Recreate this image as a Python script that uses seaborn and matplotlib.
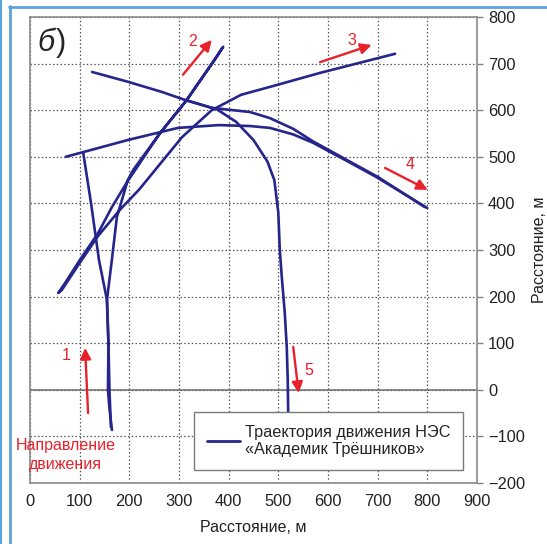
import matplotlib
matplotlib.use("Agg")
import matplotlib.pyplot as plt
from matplotlib.lines import Line2D
import pandas as pd
import seaborn as sns

# Trajectory pieces (x, y in metres)
seg1_x = [165, 160, 157, 158, 155, 165, 175, 197, 208, 262, 316, 372, 389,
          370, 314, 260, 195, 165, 137, 100, 70, 57, 64, 100, 137, 180, 220,
          306, 366, 425, 490, 584, 735]
seg1_y = [-86, -40, 0, 100, 193, 280, 371, 450, 472, 551, 622, 708, 736,
          706, 620, 548, 445, 392, 336, 278, 228, 208, 214, 272, 330, 385, 430,
          542, 600, 633, 652, 680, 721]
seg2_x = [107, 123, 139, 155, 158, 160, 163]
seg2_y = [510, 400, 278, 193, 100, 0, -80]
seg3_x = [72, 107, 197, 298, 380, 443, 483, 530, 570, 640, 700, 800]
seg3_y = [500, 510, 536, 562, 568, 566, 562, 548, 530, 490, 455, 390]
seg4_x = [125, 197, 266, 312, 366, 443, 483, 530, 570, 640, 700, 795]
seg4_y = [682, 661, 639, 622, 605, 596, 583, 560, 533, 492, 457, 392]
seg5_x = [312, 376, 415, 450, 478, 492, 500, 503, 507, 513, 517, 519, 520]
seg5_y = [622, 602, 575, 536, 490, 450, 380, 300, 242, 165, 92, 21, -60]

# direction arrows: tail -> head, label position
arrow_tail = [(117, -50), (308, 676), (584, 703), (715, 476), (530, 92)]
arrow_head = [(111, 90), (366, 751), (688, 740), (801, 429), (541, -7)]
arrow_num = ["1", "2", "3", "4", "5"]
arrow_lbl = [(72, 73), (328, 748), (648, 749), (765, 484), (562, 42)]

x_ticks = list(range(0, 901, 100))
y_ticks = list(range(-200, 801, 100))

legend_text = "Траектория движения НЭС\n«Академик Трёшников»"
navy = "#25258c"
red = "#e8212b"

frames = []
for i, (xs, ys) in enumerate([(seg1_x, seg1_y), (seg2_x, seg2_y), (seg3_x, seg3_y),
                              (seg4_x, seg4_y), (seg5_x, seg5_y)]):
    frames.append(pd.DataFrame({"x": xs, "y": ys, "seg": i}))
df = pd.concat(frames, ignore_index=True)

sns.set_style("white")
plt.rcParams["font.family"] = ["Liberation Sans", "DejaVu Sans"]

fig = plt.figure(figsize=(5.47, 5.44), dpi=100)
ax = fig.add_axes([0.0548, 0.1121, 0.8172, 0.8567])

ax.axhline(0, color="#6e6e6e", lw=1.1, zorder=1)
sns.lineplot(data=df, x="x", y="y", units="seg", estimator=None, sort=False,
             color=navy, lw=1.9, legend=False, ax=ax, zorder=3)

for (tx, ty), (hx, hy) in zip(arrow_tail, arrow_head):
    ax.annotate("", xy=(hx, hy), xytext=(tx, ty),
                arrowprops=dict(arrowstyle="-|>,head_length=0.65,head_width=0.32",
                                color=red, lw=1.7, shrinkA=0, shrinkB=0), zorder=4)
for t, (lx, ly) in zip(arrow_num, arrow_lbl):
    ax.text(lx, ly, t, color=red, fontsize=11.5, ha="center", va="center")

ax.text(72, -140, "Направление\nдвижения", color=red, fontsize=11.5,
        ha="center", va="center", linespacing=1.35, clip_on=False)
ax.text(15, 745, "б", fontsize=22, style="italic", ha="left", va="center")
ax.text(52, 745, ")", fontsize=22, ha="left", va="center")

ax.set_xlim(0, 900)
ax.set_ylim(-200, 800)
ax.set_xticks(x_ticks)
ax.set_yticks(y_ticks)
ax.yaxis.tick_right()
ax.yaxis.set_label_position("right")
ax.tick_params(axis="both", labelsize=11.8, length=4, width=1, color="#808080",
               direction="out", pad=4, labelcolor="#222222")
ax.tick_params(axis="y", left=False, right=True)
ax.grid(True, color="#555555", ls=(0, (1.2, 1.8)), lw=0.9)
for s in ax.spines.values():
    s.set_color("#8a8a8a")
    s.set_linewidth(1.2)

ax.set_xlabel("Расстояние, м", fontsize=11.5, color="#222222", labelpad=8)
ax.set_ylabel("Расстояние, м", fontsize=11.5, color="#222222", labelpad=5,
              rotation=90)

handle = Line2D([], [], color=navy, lw=2.0)
leg = ax.legend([handle], [legend_text], loc="lower right",
                bbox_to_anchor=(0.969, 0.028), fontsize=11.7, fancybox=False,
                framealpha=1, edgecolor="#7a7a7a", handlelength=2.0,
                borderpad=0.8, handletextpad=0.3, borderaxespad=0)
leg.get_frame().set_linewidth(1.0)

# light-blue page frame
blue = "#5aa5dc"
fig.add_artist(Line2D([0.018, 0.018], [0, 0.989], color=blue, lw=2.0, transform=fig.transFigure))
fig.add_artist(Line2D([0.017, 1.0], [0.988, 0.988], color=blue, lw=2.0, transform=fig.transFigure))
fig.add_artist(Line2D([0.001, 0.001], [0, 1], color=blue, lw=1.5, transform=fig.transFigure))

fig.savefig("out.png", dpi=100)
